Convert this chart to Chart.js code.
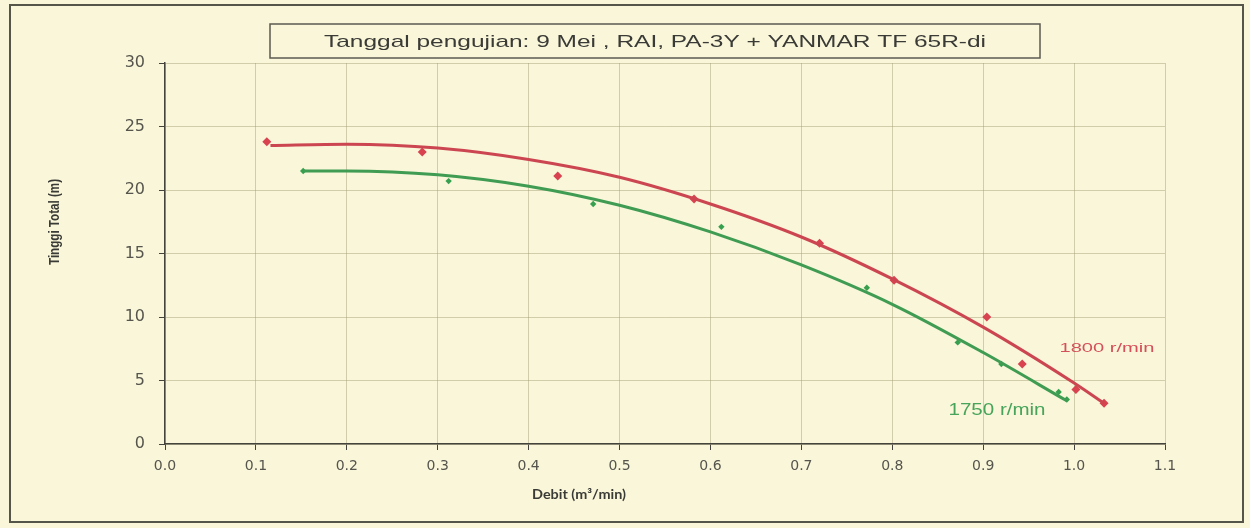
<!DOCTYPE html>
<html>
<head>
<meta charset="utf-8">
<script src="https://cdn.jsdelivr.net/npm/chart.js@4"></script>
<style>
  html, body { margin: 0; padding: 0; background: #f9f6d9; }
  #wadah { width: 1250px; height: 528px; }
</style>
</head>
<body>
<div id="wadah"><canvas id="grafik" width="1250" height="528"></canvas></div>
<script>
// titik uji
const debit1800  = [0.112, 0.283, 0.432, 0.582, 0.720, 0.802, 0.904, 0.943, 1.002, 1.033];
const tinggi1800 = [23.8, 23.0, 21.1, 19.3, 15.8, 12.9, 10.0, 6.3, 4.3, 3.2];
const debit1750  = [0.152, 0.312, 0.471, 0.612, 0.772, 0.872, 0.920, 0.983, 0.992];
const tinggi1750 = [21.5, 20.7, 18.9, 17.1, 12.3, 8.0, 6.3, 4.1, 3.5];

// garis trend (dibaca dari kurva di gambar)
const kurvaX1800 = [0.116, 0.2, 0.3, 0.4, 0.5, 0.6, 0.7, 0.8, 0.9, 1.0, 1.033];
const kurvaY1800 = [23.5, 23.6, 23.3, 22.4, 21.0, 18.9, 16.3, 13.0, 9.2, 4.8, 3.2];
const kurvaX1750 = [0.152, 0.2, 0.3, 0.4, 0.5, 0.6, 0.7, 0.8, 0.9, 0.992];
const kurvaY1750 = [21.5, 21.5, 21.2, 20.3, 18.8, 16.7, 14.1, 11.0, 7.2, 3.4];

const xTicks = [0, 0.1, 0.2, 0.3, 0.4, 0.5, 0.6, 0.7, 0.8, 0.9, 1.0, 1.1];
const yTicks = [0, 5, 10, 15, 20, 25, 30];

const judul = 'Tanggal pengujian: 9 Mei , RAI, PA-3Y + YANMAR TF 65R-di';
const judulX = 'Debit (m\u00b3/min)';
const judulY = 'Tinggi Total (m)';
const namaSeri = ['1800 r/min', '1750 r/min'];

const merah = '#cc4651';
const hijau = '#3f9c52';
const latar = '#f9f6d9';

function pasang(xs, ys) {
  return xs.map((x, i) => ({ x: x, y: ys[i] }));
}

// tulis teks dengan lebar dipaksa (gambar aslinya agak melebar)
function tulis(ctx, teks, x, y, font, warna, lebar) {
  ctx.save();
  ctx.font = font;
  ctx.fillStyle = warna;
  ctx.textAlign = 'center';
  ctx.textBaseline = 'middle';
  const w = ctx.measureText(teks).width;
  ctx.translate(x, y);
  ctx.scale(lebar ? lebar / w : 1, 1);
  ctx.fillText(teks, 0, 0);
  ctx.restore();
}

const hiasan = {
  id: 'hiasan',
  beforeDraw(chart) {
    const ctx = chart.ctx;
    ctx.save();
    ctx.fillStyle = latar;
    ctx.fillRect(0, 0, chart.width, chart.height);
    ctx.strokeStyle = '#55554a';
    ctx.lineWidth = 2;
    ctx.strokeRect(10, 5, 1233, 517);
    ctx.restore();
  },
  afterDraw(chart) {
    const ctx = chart.ctx;
    // kotak judul
    ctx.save();
    ctx.fillStyle = latar;
    ctx.fillRect(270, 24, 770, 34);
    ctx.strokeStyle = '#5a5a50';
    ctx.lineWidth = 1.5;
    ctx.strokeRect(270, 24, 770, 34);
    ctx.restore();
    tulis(ctx, judul, 655, 42, '17px "Liberation Sans", Arial', '#3a3a36', 662);

    tulis(ctx, judulX, 579, 494, 'bold 14px Lato, "Open Sans"', '#3a3a36', 94);

    ctx.save();
    ctx.translate(55, 222);
    ctx.rotate(-Math.PI / 2);
    tulis(ctx, judulY, 0, 0, 'bold 15px "Liberation Sans Narrow", "Liberation Sans"', '#3a3a36', 86);
    ctx.restore();

    tulis(ctx, namaSeri[0], 1107, 349, '12px "Liberation Sans", Arial', '#d4505a', 95);
    tulis(ctx, namaSeri[1], 997, 411, '16px "Liberation Sans", Arial', '#47a45a', 97);
  }
};

new Chart('grafik', {
  type: 'scatter',
  data: {
    datasets: [{
      data: pasang(kurvaX1800, kurvaY1800),
      showLine: true,
      borderColor: merah,
      borderWidth: 3,
      pointRadius: 0,
      cubicInterpolationMode: 'monotone'
    }, {
      data: pasang(kurvaX1750, kurvaY1750),
      showLine: true,
      borderColor: hijau,
      borderWidth: 3,
      pointRadius: 0,
      cubicInterpolationMode: 'monotone'
    }, {
      data: pasang(debit1800, tinggi1800),
      pointStyle: 'rectRot',
      pointRadius: 4.5,
      backgroundColor: '#d8434f',
      borderColor: '#d8434f',
      borderWidth: 0
    }, {
      data: pasang(debit1750, tinggi1750),
      pointStyle: 'rectRot',
      pointRadius: 3.2,
      backgroundColor: '#37a04f',
      borderColor: '#37a04f',
      borderWidth: 0
    }]
  },
  options: {
    responsive: false,
    animation: false,
    layout: { padding: { left: 0, top: 63, right: 85, bottom: 0 } },
    plugins: {
      legend: { display: false },
      tooltip: { enabled: false }
    },
    scales: {
      x: {
        type: 'linear',
        min: 0,
        max: 1.1,
        afterBuildTicks: s => { s.ticks = xTicks.map(v => ({ value: v })); },
        afterFit: s => { s.height = 84; },
        ticks: {
          callback: v => v.toFixed(1),
          font: { family: '"DejaVu Sans"', size: 14 },
          color: '#55554d',
          padding: 8,
          maxRotation: 0
        },
        grid: { color: 'rgba(160,155,115,0.45)', tickColor: '#44443c', tickLength: 6 },
        border: { color: '#44443c', width: 1.5 }
      },
      y: {
        min: 0,
        max: 30,
        afterBuildTicks: s => { s.ticks = yTicks.map(v => ({ value: v })); },
        afterFit: s => { s.width = 165; },
        ticks: {
          font: { family: '"DejaVu Sans"', size: 16 },
          color: '#55554d',
          padding: 14
        },
        grid: { color: 'rgba(160,155,115,0.45)', tickColor: '#44443c', tickLength: 6 },
        border: { color: '#44443c', width: 1.5 }
      }
    }
  },
  plugins: [hiasan]
});
</script>
</body>
</html>
